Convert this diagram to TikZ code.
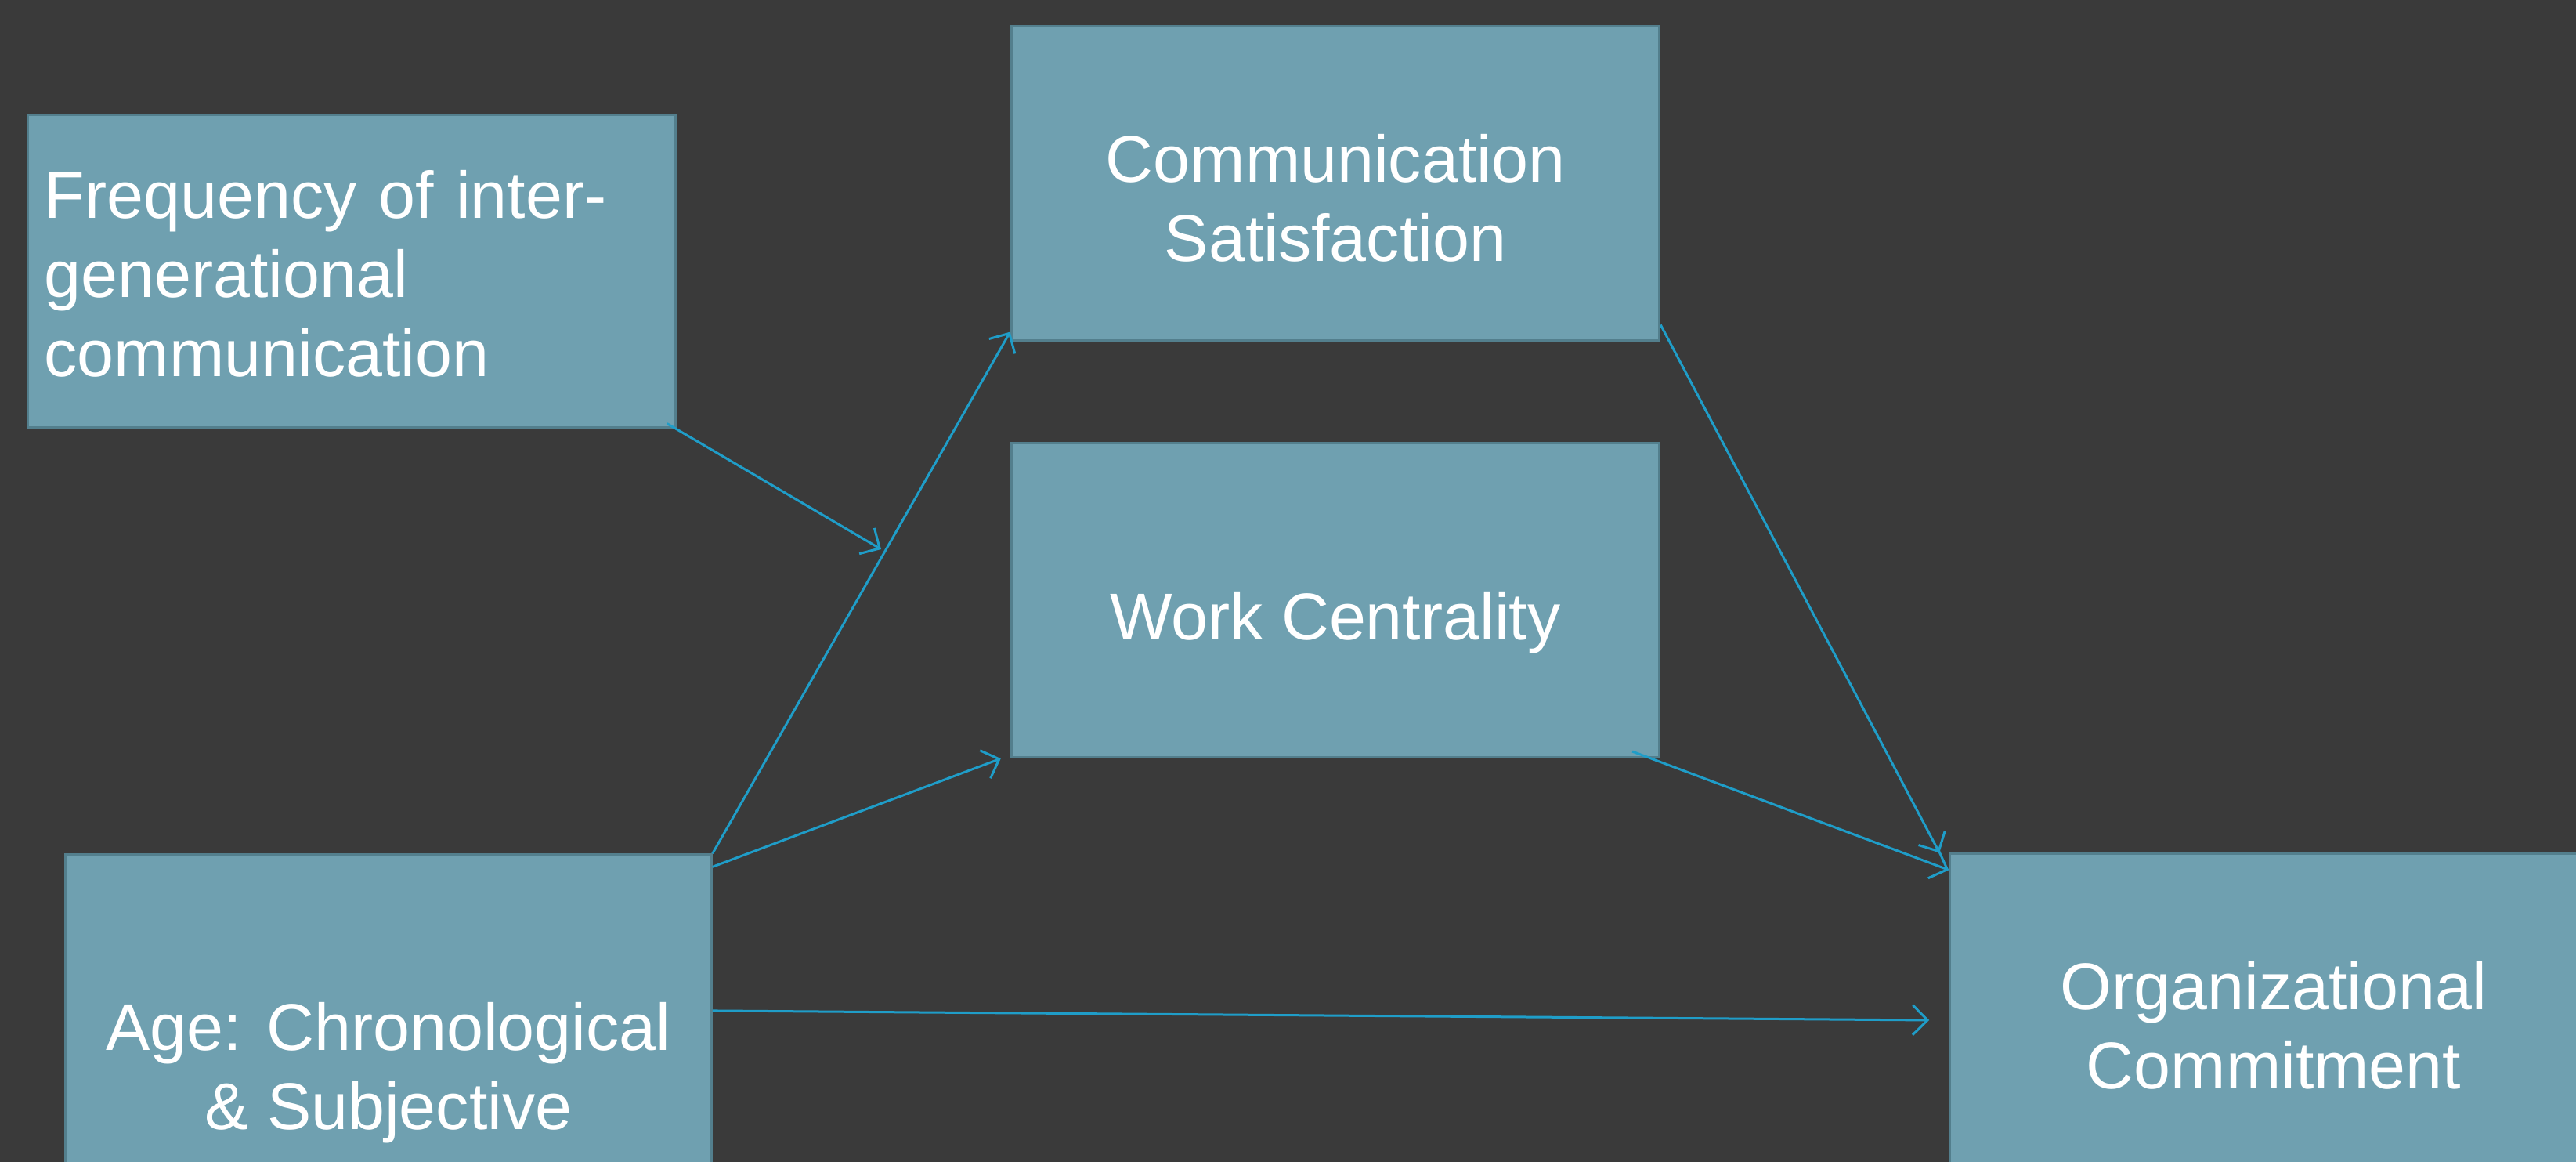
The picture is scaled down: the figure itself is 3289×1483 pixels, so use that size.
\documentclass[tikz,border=0pt]{standalone}
\usepackage{fontspec}
\setmainfont{Liberation Sans}
\usetikzlibrary{arrows.meta}
\definecolor{slide}{HTML}{3A3A3A}
\definecolor{boxfill}{HTML}{6FA0B0}
\definecolor{boxline}{HTML}{537F8D}
\definecolor{link}{HTML}{1F9DC8}

\begin{document}
\begin{tikzpicture}[x=0.01cm,y=-0.01cm,
    var_node/.style={rectangle,fill=boxfill,draw=boxline,line width=0.03cm},
    var_text/.style={text=white,align=center,inner sep=0pt,
        font=\fontsize{24}{28.7}\selectfont},
    path_arrow/.style={draw=link,line width=0.03cm,
        -{Straight Barb[length=0.19cm,width=0.38cm,line width=0.03cm]}}]
    \useasboundingbox (0,0) rectangle (3289,1483);
    \clip (0,0) rectangle (3289,1483);
    \fill[slide] (0,0) rectangle (3289,1483);
    % boxes
    \node[var_node,minimum width=8.26cm,minimum height=3.98cm] (freq) at (449,346) {};
    \node[var_node,minimum width=8.27cm,minimum height=4.00cm] (cs) at (1705,234) {};
    \node[var_node,minimum width=8.27cm,minimum height=4.01cm] (wc) at (1705,766) {};
    \node[var_node,minimum width=8.24cm,minimum height=5.40cm] (age) at (496,1361) {};
    \node[var_node,minimum width=8.26cm,minimum height=4.38cm] (oc) at (2903,1309) {};
    % labels
    \node[var_text,text width=7.84cm,align=left] (freq_txt) at ([yshift=-0.03cm]freq.center)
        {Frequency of inter-\\generational\\communication};
    \node[var_text] (cs_txt) at ([yshift=-0.19cm]cs.center) {Communication\\Satisfaction};
    \node[var_text] (wc_txt) at ([yshift=-0.29cm]wc.center) {Work Centrality};
    \node[var_text] (age_txt) at ([yshift=-0.08cm]age.center) {Age: Chronological\\\& Subjective};
    \node[var_text] (oc_txt) at (oc.center) {Organizational\\Commitment};
    % paths
    \coordinate (mod) at (1125,701);
    \draw[path_arrow] ([xshift=-0.12cm,yshift=0.06cm]freq.south east) -- (mod);
    \draw[path_arrow] (age.north east) -- ([yshift=0.12cm]cs.south west);
    \draw[path_arrow] ([yshift=-0.17cm]age.north east) -- ([xshift=-0.12cm]wc.south west);
    \draw[path_arrow] ([yshift=0.71cm]age.east) -- ([xshift=-0.25cm,yshift=0.07cm]oc.west);
    \draw[path_arrow] ([yshift=0.21cm]cs.south east) -- ([xshift=-0.12cm]oc.north west);
    \draw[path_arrow] ([xshift=-0.36cm,yshift=0.09cm]wc.south east) -- ([yshift=-0.22cm]oc.north west);
\end{tikzpicture}
\end{document}
